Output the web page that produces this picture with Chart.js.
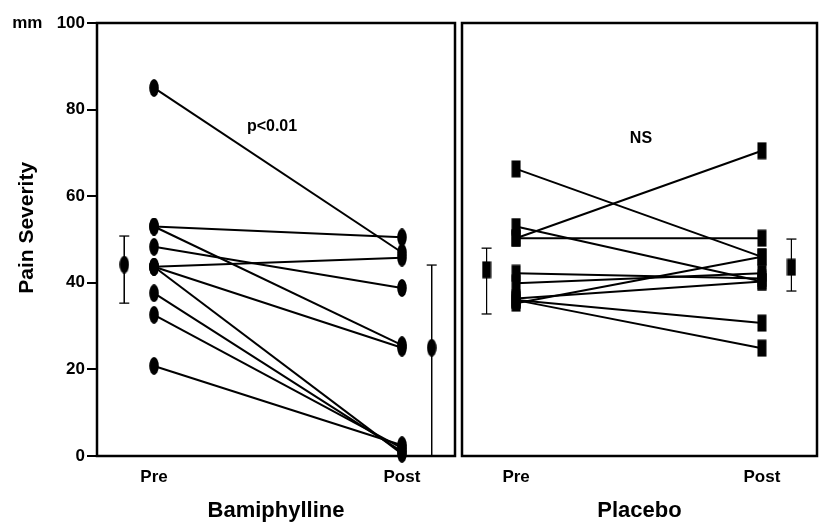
<!DOCTYPE html>
<html>
<head>
<meta charset="utf-8">
<script src="https://cdn.jsdelivr.net/npm/chart.js@4.4.1/dist/chart.umd.min.js"></script>
<style>
  html, body { margin: 0; padding: 0; background: #fff; overflow: hidden; }
  #bamChart { position: absolute; left: 0; top: 0; }
  #plaChart { position: absolute; left: 460px; top: 0; }
</style>
</head>
<body>
<canvas id="bamChart" width="460" height="522"></canvas>
<canvas id="plaChart" width="359" height="522"></canvas>
<script>
const phases = ['Pre', 'Post'];

// Bamiphylline, one pair per patient
const bamPre  = [85, 53, 53, 48.3, 43.7, 43.7, 43.7, 37.6, 32.6, 20.8];
const bamPost = [47, 50.5, 25.6, 38.8, 45.8, 25, 0.5, 1, 1.8, 2.5];
const bamMean = [44.2, 25];
const bamLow  = [35.3, 0];
const bamHigh = [50.8, 44.1];

// Placebo
const plaPre  = [66.3, 53, 50.3, 50.3, 42.2, 39.9, 35.3, 36.4, 36, 36];
const plaPost = [46, 40.3, 70.5, 50.3, 41, 42.2, 46, 40.3, 30.7, 24.9];
const plaMean = [43, 43.6];
const plaLow  = [32.8, 38.1];
const plaHigh = [48, 50.1];

// where the mean +/- SD markers sit, beside Pre and Post
const meanX = [-0.12, 1.12];

const FONT = "'Liberation Sans', Arial, Helvetica, sans-serif";

function marker(shape) {
  const c = document.createElement('canvas');
  c.width = 10; c.height = 18;
  const g = c.getContext('2d');
  g.fillStyle = '#000';
  if (shape === 'ellipse') {
    g.beginPath();
    g.ellipse(5, 9, 4.8, 9, 0, 0, Math.PI * 2);
    g.fill();
  } else {
    g.fillRect(0.5, 0.5, 9, 17);
  }
  return c;
}

function buildDatasets(pre, post, mean, low, high, dot) {
  const sets = pre.map((v, i) => ({
    data: [{ x: 0, y: v }, { x: 1, y: post[i] }],
    showLine: true,
    borderColor: '#000',
    borderWidth: 2,
    pointStyle: dot,
    pointRadius: 5,
    clip: false
  }));
  mean.forEach((m, i) => {
    sets.push({
      data: [{ x: meanX[i], y: high[i] }, { x: meanX[i], y: low[i] }],
      showLine: true,
      borderColor: '#000',
      borderWidth: 1,
      pointStyle: 'line',
      pointRadius: 5,
      pointBorderWidth: 1.3,
      clip: false
    });
    sets.push({
      data: [{ x: meanX[i], y: m }],
      pointStyle: dot,
      pointRadius: 5,
      clip: false
    });
  });
  return sets;
}

const framePlugin = {
  id: 'frame',
  beforeDatasetsDraw(chart) {
    const { ctx, chartArea: a } = chart;
    ctx.save();
    ctx.strokeStyle = '#000';
    ctx.lineWidth = 2.5;
    ctx.strokeRect(a.left, a.top, a.right - a.left, a.bottom - a.top);
    ctx.restore();
  }
};

const notePlugin = {
  id: 'note',
  afterDraw(chart, args, opts) {
    if (!opts.text) return;
    const { ctx, scales } = chart;
    ctx.save();
    ctx.fillStyle = '#000';
    ctx.font = 'bold 16px ' + FONT;
    ctx.textAlign = 'center';
    ctx.textBaseline = 'middle';
    ctx.fillText(opts.text, scales.x.getPixelForValue(opts.x), scales.y.getPixelForValue(opts.y));
    ctx.restore();
  }
};

function makeOptions(xMin, xMax, title, showY, pad, note) {
  return {
    responsive: false,
    animation: false,
    events: [],
    layout: { padding: pad, autoPadding: false },
    plugins: {
      legend: { display: false },
      tooltip: { enabled: false },
      note: note
    },
    scales: {
      x: {
        type: 'linear',
        min: xMin,
        max: xMax,
        afterBuildTicks: s => { s.ticks = [{ value: 0 }, { value: 1 }]; },
        afterFit: s => { s.height = 66; s.paddingLeft = 0; s.paddingRight = 0; },
        grid: { display: false, drawTicks: false },
        border: { display: false },
        ticks: {
          callback: v => phases[v],
          color: '#000',
          font: { family: FONT, size: 17, weight: 'bold', lineHeight: 1 },
          padding: 13,
          maxRotation: 0,
          autoSkip: false
        },
        title: {
          display: true,
          text: title,
          color: '#000',
          font: { family: FONT, size: 22, weight: 'bold', lineHeight: 1 },
          padding: 0
        }
      },
      y: {
        min: 0,
        max: 100,
        display: showY,
        afterFit: s => { s.width = showY ? 97 : 0; },
        grid: { drawOnChartArea: false, drawTicks: true, tickLength: 10, color: '#000', lineWidth: 2 },
        border: { display: false },
        ticks: {
          stepSize: 20,
          callback: v => v === 100 ? 'mm   100' : v,
          color: '#000',
          font: { family: FONT, size: 17, weight: 'bold', lineHeight: 1 },
          padding: 2
        },
        title: {
          display: true,
          // leading spaces lift the rotated title a little above the axis middle
          text: '    Pain Severity',
          color: '#000',
          font: { family: FONT, size: 21, weight: 'bold', lineHeight: 1 },
          padding: { top: 17, bottom: 0 }
        }
      }
    }
  };
}

window.addEventListener('DOMContentLoaded', () => {
  const ellipse = marker('ellipse');
  const rect = marker('rect');

  new Chart(document.getElementById('bamChart').getContext('2d'), {
    type: 'scatter',
    data: { datasets: buildDatasets(bamPre, bamPost, bamMean, bamLow, bamHigh, ellipse) },
    options: makeOptions(-0.23, 1.214, 'Bamiphylline', true,
      { top: 23, right: 5, bottom: 0, left: 0 },
      { text: 'p<0.01', x: 0.476, y: 76 }),
    plugins: [framePlugin, notePlugin]
  });

  new Chart(document.getElementById('plaChart').getContext('2d'), {
    type: 'scatter',
    data: { datasets: buildDatasets(plaPre, plaPost, plaMean, plaLow, plaHigh, rect) },
    options: makeOptions(-0.22, 1.224, 'Placebo', false,
      { top: 23, right: 2, bottom: 0, left: 2 },
      { text: 'NS', x: 0.508, y: 73.4 }),
    plugins: [framePlugin, notePlugin]
  });
});
</script>
</body>
</html>
